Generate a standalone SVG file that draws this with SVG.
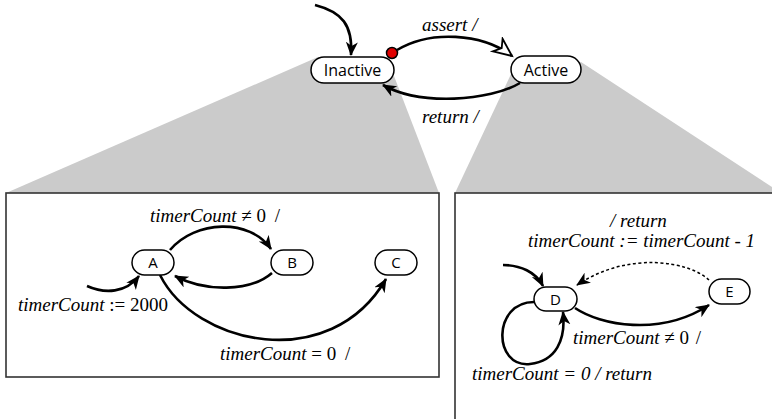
<svg xmlns="http://www.w3.org/2000/svg" width="772" height="419" viewBox="0 0 772 419">
<style>
.node rect{fill:#fff;stroke:#000;stroke-width:1.5}
.node text{font-family:"Open Sans","DejaVu Sans",sans-serif;font-size:16px;text-anchor:middle;fill:#000}
.small text{font-size:15px}
.lbl{font-family:"Liberation Serif","Times New Roman",serif;font-size:19px;fill:#000}
.it{font-style:italic}
.edge{fill:none;stroke:#000;stroke-width:2.6}
.dash{fill:none;stroke:#000;stroke-width:1.5;stroke-dasharray:3 2.5}
.panel{fill:#fff;stroke:#333;stroke-width:1.6}
.shade{fill:#cbcbcb}
</style>
<defs>
<marker id="ah" markerUnits="userSpaceOnUse" markerWidth="16" markerHeight="14" refX="13" refY="6" orient="auto">
<path d="M0,0 L14,6 L0,12 L4,6 z" fill="#000"/>
</marker>
<marker id="ahd" markerUnits="userSpaceOnUse" markerWidth="16" markerHeight="14" refX="13" refY="6" orient="auto">
<path d="M0,0 L14,6 L0,12 L4,6 z" fill="#000"/>
</marker>
<marker id="open" markerUnits="userSpaceOnUse" markerWidth="24" markerHeight="20" refX="20" refY="9" orient="auto">
<path d="M2,1 L20,9 L2,17 L7,9 z" fill="#fff" stroke="#000" stroke-width="1.8" stroke-linejoin="miter"/>
</marker>
</defs>

<g id="background">
<polygon class="shade" points="6,193 318,57 394,76 439,193"/>
<polygon class="shade" points="455,193 512,72 581,62 772,187 772,193"/>
<rect class="panel" x="6" y="193" width="433" height="184"/>
<rect class="panel" x="455" y="193" width="330" height="240"/>
</g>

<g id="connectors">
<path class="edge" d="M315,5 C342,12 353,25 351,55" marker-end="url(#ah)"/>
<path class="edge" d="M397,50 C430,30 482,33 512,56" marker-end="url(#open)"/>
<circle cx="392" cy="53" r="5.5" fill="#e00000" stroke="#000" stroke-width="1.5"/>
<path class="edge" d="M520,83 C490,101 420,106 383,85" marker-end="url(#ah)"/>

<path class="edge" d="M170,250 C195,220 250,218 271,249" marker-end="url(#ah)"/>
<path class="edge" d="M272,273 C250,292 205,292 175,276" marker-end="url(#ah)"/>
<path class="edge" d="M87,286 C105,294 126,293 139,276" marker-end="url(#ah)"/>
<path class="edge" d="M160,275 C195,345 330,375 386,279" marker-end="url(#ah)"/>

<path class="edge" d="M503,265 C520,265 536,272 543,286" marker-end="url(#ah)"/>
<path class="dash" d="M709,280 C690,262 630,250 577,285" marker-end="url(#ahd)"/>
<path class="edge" d="M575,308 C600,325 660,337 709,305" marker-end="url(#ah)"/>
<path class="edge" d="M534,302 C492,302 493,368 530,364 C556,361 566,340 563,312" marker-end="url(#ah)"/>
</g>

<g id="n-inactive" class="node"><rect x="311" y="57" width="83" height="26" rx="13"/><text x="352.5" y="76">Inactive</text></g>
<g id="n-active" class="node"><rect x="511" y="56" width="70" height="27" rx="13.5"/><text x="546" y="75.5">Active</text></g>
<g id="n-a" class="node small"><rect x="132" y="250" width="42" height="25" rx="12.5"/><text x="153" y="268">A</text></g>
<g id="n-b" class="node small"><rect x="271" y="250" width="42" height="25" rx="12.5"/><text x="292" y="268">B</text></g>
<g id="n-c" class="node small"><rect x="375" y="250" width="42" height="25" rx="12.5"/><text x="396" y="268">C</text></g>
<g id="n-d" class="node small"><rect x="534" y="287" width="43" height="24" rx="12"/><text x="555.5" y="304.5">D</text></g>
<g id="n-e" class="node small"><rect x="709" y="279" width="41" height="25" rx="12.5"/><text x="729.5" y="297">E</text></g>

<g id="labels">
<text class="lbl it" x="422" y="31">assert /</text>
<text class="lbl it" x="422" y="123">return /</text>
<text class="lbl" x="150" y="222"><tspan class="it">timerCount</tspan> ≠ 0 <tspan dx="4">/</tspan></text>
<text class="lbl" x="18" y="311"><tspan class="it">timerCount</tspan> := 2000</text>
<text class="lbl" x="220" y="360"><tspan class="it">timerCount</tspan> = 0 <tspan dx="4">/</tspan></text>
<text class="lbl it" x="610" y="227">/ return</text>
<text class="lbl it" x="528" y="247">timerCount := timerCount - 1</text>
<text class="lbl" x="573" y="344"><tspan class="it">timerCount</tspan> ≠ 0 <tspan dx="2">/</tspan></text>
<text class="lbl it" x="472" y="380">timerCount = 0 / return</text>
</g>
</svg>
